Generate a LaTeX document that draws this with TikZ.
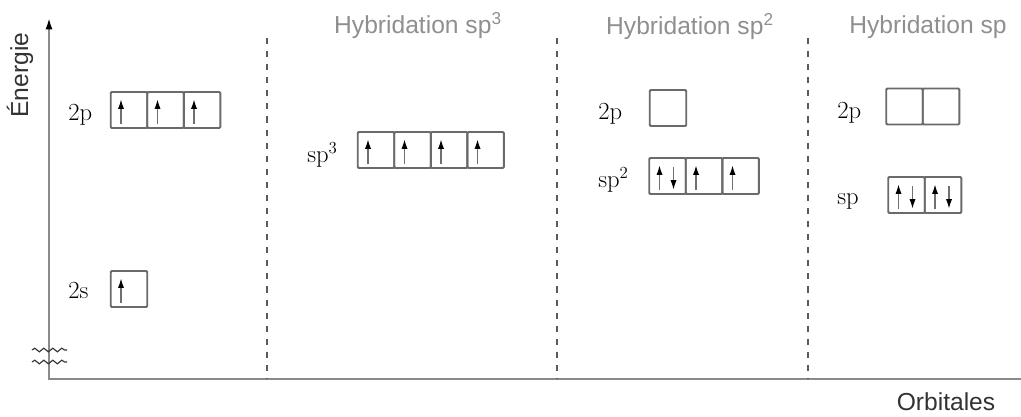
\documentclass[tikz,border=0pt]{standalone}
\usepackage{fontspec}
\setsansfont{Liberation Sans}
\usepackage{tikz}
\usetikzlibrary{arrows.meta,positioning,calc,decorations.pathmorphing}
\definecolor{axisgray}{HTML}{8A8A8A}
\definecolor{boxgray}{HTML}{6A6A6A}
\definecolor{titlegray}{HTML}{8F8F8F}
\definecolor{textgray}{HTML}{333333}
\definecolor{spingray}{HTML}{707070}
\definecolor{dashgray}{HTML}{5A5A5A}

\begin{document}
\begin{tikzpicture}[x=0.025cm,y=-0.025cm,
  orb/.style={draw=boxgray,line width=1.4pt,rounded corners=0.8pt,minimum width=0.9125cm,minimum height=0.9cm,inner sep=0pt,outer sep=0pt},
  lab/.style={anchor=base west,inner sep=0pt,font=\fontsize{17.5}{19}\selectfont},
  hyb/.style={anchor=base,titlegray,font=\sffamily\fontsize{17.5}{20}\selectfont},
  spin/.style={spingray,line width=1.2pt,-{Latex[length=7pt,width=4.4pt,color=black]}}]
\useasboundingbox (0,0) rectangle (1021,416);
% axes
\coordinate (O) at (49,379); \coordinate (Ytop) at (49,18); \coordinate (Xend) at (1021,379);
\draw[axisgray,line width=1.4pt,-{Latex[length=8pt,width=5pt,color=black]}] (Xend) -- (O) -- (Ytop);
\node[rotate=90,textgray,font=\sffamily\fontsize{17.5}{20}\selectfont] (E) at (20,75) {Énergie};
\node[anchor=base,textgray,font=\sffamily\fontsize{17.5}{20}\selectfont] (Or) at (946,410) {Orbitales};
\foreach \y in {350,362}
  \draw[textgray,line width=0.8pt,decorate,decoration={snake,amplitude=1.3pt,segment length=6.4pt}] (32,\y) -- (67,\y);
\foreach \x in {267,557,808}
  \draw[dashgray,line width=0.9pt,dash pattern=on 4.3pt off 5pt] (\x,38) -- (\x,379);
% titles
\node[hyb] (T3) at (418,33) {Hybridation sp\textsuperscript{3}};
\node[hyb] (T2) at (690,34) {Hybridation sp\textsuperscript{2}};
\node[hyb] (T1) at (928,33) {Hybridation sp};
% ground state
\node[orb] (p1) at (129,110) {};
\node[orb,right=0pt of p1] (p2) {};
\node[orb,right=0pt of p2] (p3) {};
\node[orb] (s1) at (129,289) {};
\node[lab] (l2p) at (68,120) {2p};
\node[lab] (l2s) at (68,298) {2s};
% sp3
\node[orb] (h1) at (376,150) {};
\node[orb,right=0pt of h1] (h2) {};
\node[orb,right=0pt of h2] (h3) {};
\node[orb,right=0pt of h3] (h4) {};
\node[lab] (lh) at (307,162) {sp$^3$};
% sp2
\node[orb] (e1) at (668,108) {};
\node[orb] (t1) at (667.5,176) {};
\node[orb,right=0pt of t1] (t2) {};
\node[orb,right=0pt of t2] (t3) {};
\node[lab] (le) at (598,119) {2p};
\node[lab] (lt) at (598,187) {sp$^2$};
% sp
\node[orb] (f1) at (904.5,106.5) {};
\node[orb,right=0pt of f1] (f2) {};
\node[orb] (d1) at (906.5,195) {};
\node[orb,right=0pt of d1] (d2) {};
\node[lab] (lf) at (837,118) {2p};
\node[lab] (ld) at (837,204) {sp};
% electrons
\foreach \c in {p1,p2,p3,s1,h1,h2,h3,h4,t1,t2,t3,d1,d2}
  \draw[spin] ($(\c)+(-8,14)$) -- ($(\c)+(-8,-11)$);
\foreach \c in {t1,d1,d2}
  \draw[spin] ($(\c)+(6,-9)$) -- ($(\c)+(6,14)$);
\end{tikzpicture}
\end{document}
